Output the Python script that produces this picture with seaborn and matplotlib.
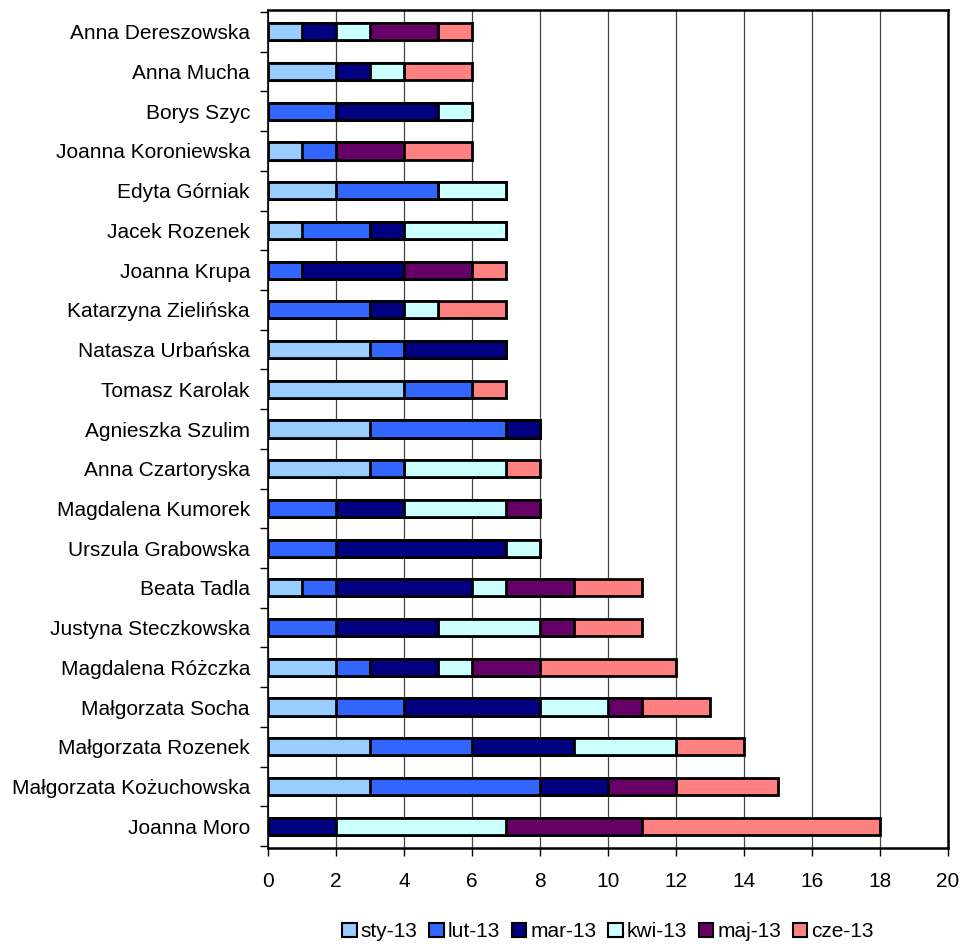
import matplotlib
matplotlib.use("Agg")
import matplotlib.pyplot as plt
import seaborn as sns
import numpy as np
import pandas as pd
from matplotlib.patches import Patch

# names, top to bottom
names = [
    "Anna Dereszowska", "Anna Mucha", "Borys Szyc", "Joanna Koroniewska",
    "Edyta Górniak", "Jacek Rozenek", "Joanna Krupa", "Katarzyna Zielińska",
    "Natasza Urbańska", "Tomasz Karolak", "Agnieszka Szulim", "Anna Czartoryska",
    "Magdalena Kumorek", "Urszula Grabowska", "Beata Tadla", "Justyna Steczkowska",
    "Magdalena Różczka", "Małgorzata Socha", "Małgorzata Rozenek",
    "Małgorzata Kożuchowska", "Joanna Moro",
]
months = ["sty-13", "lut-13", "mar-13", "kwi-13", "maj-13", "cze-13"]

sty = [1, 2, 0, 1, 2, 1, 0, 0, 3, 4, 3, 3, 0, 0, 1, 0, 2, 2, 3, 3, 0]
lut = [0, 0, 2, 1, 3, 2, 1, 3, 1, 2, 4, 1, 2, 2, 1, 2, 1, 2, 3, 5, 0]
mar = [1, 1, 3, 0, 0, 1, 3, 1, 3, 0, 1, 0, 2, 5, 4, 3, 2, 4, 3, 2, 2]
kwi = [1, 1, 1, 0, 2, 3, 0, 1, 0, 0, 0, 3, 3, 1, 1, 3, 1, 2, 3, 0, 5]
maj = [2, 0, 0, 2, 0, 0, 2, 0, 0, 0, 0, 0, 1, 0, 2, 1, 2, 1, 0, 2, 4]
cze = [1, 2, 0, 2, 0, 0, 1, 2, 0, 1, 0, 1, 0, 0, 2, 2, 4, 2, 2, 3, 7]

colors = ["#99CCFF", "#3366FF", "#000080", "#CCFFFF", "#660066", "#FF8080"]

df = pd.DataFrame({"name": names, "sty-13": sty, "lut-13": lut, "mar-13": mar,
                   "kwi-13": kwi, "maj-13": maj, "cze-13": cze})
cum = df[months].cumsum(axis=1)

plt.rcParams["font.family"] = ["Liberation Sans", "DejaVu Sans"]
fig = plt.figure(figsize=(9.62, 9.44), dpi=100)
ax = fig.add_axes([0.2786, 0.1017, 0.7068, 0.8877])

# stacked bars: draw cumulative totals from the last month back to the first
for m, c in reversed(list(zip(months, colors))):
    sns.barplot(x=cum[m], y=df["name"], orient="h", color=c, saturation=1,
                width=0.43, edgecolor="black", linewidth=2, ax=ax, zorder=3)

ax.set_xlim(0, 20)
ax.set_ylim(20.55, -0.55)
ax.set_xticks(range(0, 21, 2))
ax.set_xlabel("")
ax.set_ylabel("")
ax.grid(axis="x", color="#444444", linewidth=0.9, zorder=0)
ax.set_axisbelow(True)
ax.set_yticks(np.arange(len(names)))
ax.set_yticks(np.arange(-0.5, len(names)), minor=True)
ax.tick_params(axis="y", which="major", length=0, labelsize=15, pad=13)
ax.tick_params(axis="y", which="minor", length=6, width=1)
ax.tick_params(axis="x", length=6, width=1, labelsize=15, pad=11)
for s in ax.spines.values():
    s.set_color("black")
    s.set_linewidth(1.8)
ax.spines["left"].set_linewidth(1.2)

handles = [Patch(facecolor=c, edgecolor="black", linewidth=1.5, label=m)
           for m, c in zip(months, colors)]
fig.legend(handles=handles, loc="center", bbox_to_anchor=(0.632, 0.013),
           ncol=6, frameon=False, fontsize=15, handlelength=0.7,
           handleheight=0.7, handletextpad=0.2, columnspacing=0.55,
           borderaxespad=0)

fig.savefig("out.png", dpi=100, facecolor="white")
